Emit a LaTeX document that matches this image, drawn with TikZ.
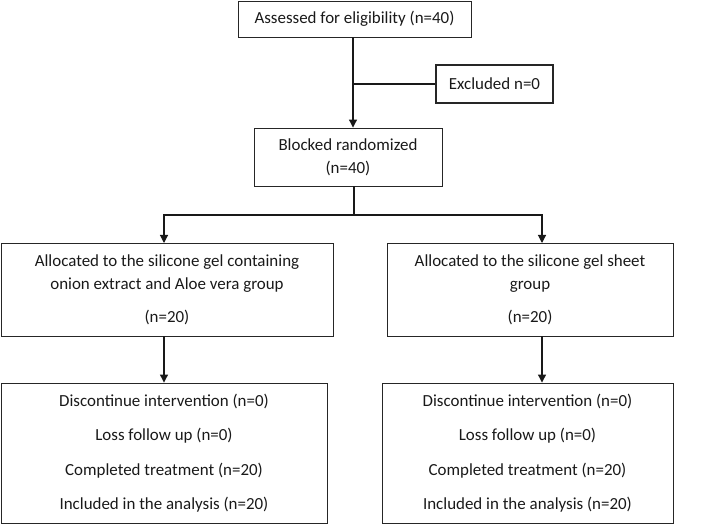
\documentclass[tikz,border=0pt]{standalone}
\usepackage{fontspec}
\setmainfont{Carlito}
\usetikzlibrary{arrows.meta}
\tikzset{
  flowbox/.style={draw=black!85, line width=0.9bp, align=center, inner sep=0pt,
    font=\fontsize{17}{23}\selectfont, text=black!90},
  flowline/.style={line width=1.1bp, draw=black!90}
}
\begin{document}
\begin{tikzpicture}[x=1bp,y=-1bp,>={Triangle[length=8bp,width=8bp]}, line join=miter]
			\useasboundingbox (0,0) rectangle (709,524);
			% top of the chart
			\node[flowbox, minimum width=233bp, minimum height=36bp] (assess) at (354.5,19) {Assessed for eligibility (n=40)};
			\node[flowbox, minimum width=117bp, minimum height=38bp, line width=1.4bp] (excl) at (494.5,84) {Excluded n=0};
			\node[flowbox, minimum width=188bp, minimum height=58bp] (block) at (348,157) {Blocked randomized\\(n=40)};
			% the two arms
			\node[flowbox, minimum width=332bp, minimum height=93bp] (allocL) at (167,289.5) {Allocated to the silicone gel containing\\onion extract and Aloe vera group\\[10bp](n=20)};
			\node[flowbox, minimum width=286bp, minimum height=93bp] (allocR) at (530,289.5) {Allocated to the silicone gel sheet\\group\\[10bp](n=20)};
			\node[flowbox, minimum width=326bp, minimum height=140bp] (resL) at (164,453) {Discontinue intervention (n=0)\\[11.5bp]Loss follow up (n=0)\\[11.5bp]Completed treatment (n=20)\\[11.5bp]Included in the analysis (n=20)};
			\node[flowbox, minimum width=291bp, minimum height=140bp] (resR) at (527.5,453) {Discontinue intervention (n=0)\\[11.5bp]Loss follow up (n=0)\\[11.5bp]Completed treatment (n=20)\\[11.5bp]Included in the analysis (n=20)};
			% connectors
			\coordinate (split) at (354,215);
			\coordinate (inL) at (164,243);
			\coordinate (inR) at (542,243);
			\draw[flowline,->] (assess.south -| 353,0) -- (block.north -| 353,0);
			\draw[flowline] (353,0 |- excl.west) -- (excl.west);
			\draw[flowline] (block.south -| split) -- (split);
			\draw[flowline,->] (split) -| (inL);
			\draw[flowline,->] (split) -| (inR);
			\draw[flowline,->] (inL |- allocL.south) -- (inL |- resL.north);
			\draw[flowline,->] (inR |- allocR.south) -- (inR |- resR.north);
\end{tikzpicture}
\end{document}
